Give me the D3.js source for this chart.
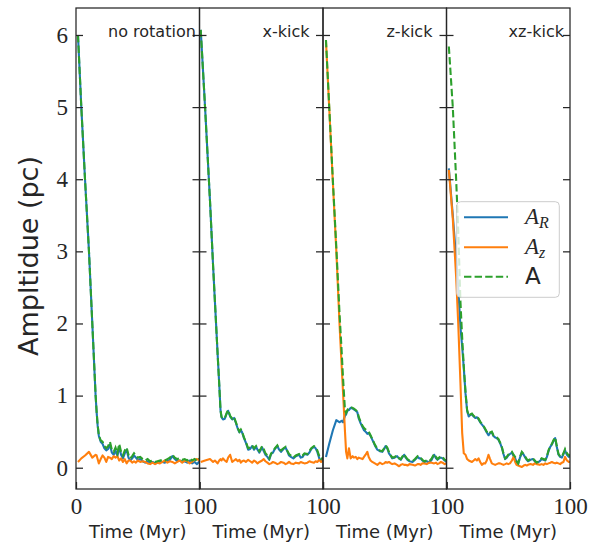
<!DOCTYPE html>
<html><head><meta charset="utf-8">
<script src="https://cdn.jsdelivr.net/npm/d3@7"></script>
<style>body{margin:0;background:#fff} svg{display:block}</style>
</head><body>
<svg id="chart" width="594" height="546"></svg>
<script>
// ---------------- data ----------------
const panelTitles = ["no rotation", "x-kick", "z-kick", "xz-kick"];
const yTicks = [0, 1, 2, 3, 4, 5, 6];
const xTicks = [0, 100];
const xTickLabels = ["0", "100"];
const xLabel = "Time (Myr)";
const yLabel = "Ampltidue (pc)";

// panel 1: no rotation
const t1 = [1.6,4.3,7.3,10.5,13.2,15.9,16.7,17.5,18.5,
  20,21.5,23,24.5,26,27.5,29,30.5,32,33.5,35,36.5,38,39.5,41,42.5,44,45.5,47,48.5,50,
  52,54,56,58,60,62,64,66,68,70,72,74,76,78,80,82,84,86,88,90,92,94,96,98,100];
const AR1 = [6.0,5.0,4.0,3.0,2.0,0.99,0.77,0.59,0.44,
  0.36,0.33,0.27,0.24,0.26,0.32,0.21,0.18,0.24,0.16,0.29,0.18,0.13,0.2,0.25,0.14,0.1,0.13,0.17,0.14,0.11,
  0.12,0.09,0.07,0.09,0.07,0.08,0.06,0.07,0.08,0.08,0.07,0.09,0.11,0.16,0.12,0.09,0.1,0.08,0.09,0.07,0.1,0.06,0.08,0.05,0.09];
const Az1 = [0.08,0.13,0.17,0.22,0.14,0.18,0.17,0.12,0.06,
  0.12,0.17,0.14,0.08,0.15,0.14,0.12,0.16,0.14,0.16,0.1,0.13,0.08,0.12,0.06,0.1,0.1,0.07,0.09,0.07,0.1,
  0.08,0.09,0.08,0.06,0.05,0.07,0.05,0.07,0.06,0.08,0.1,0.07,0.09,0.08,0.06,0.08,0.1,0.07,0.1,0.09,0.06,0.08,0.11,0.12,0.1];
const A1 = [6.0,5.0,4.0,3.0,2.0,1.0,0.78,0.6,0.45,
  0.38,0.36,0.3,0.27,0.3,0.36,0.25,0.22,0.28,0.2,0.33,0.22,0.17,0.24,0.28,0.18,0.13,0.16,0.2,0.17,0.14,
  0.15,0.12,0.1,0.12,0.09,0.1,0.08,0.09,0.1,0.11,0.1,0.12,0.14,0.18,0.14,0.12,0.13,0.11,0.12,0.1,0.13,0.1,0.12,0.09,0.13];

// panel 2: x-kick
const t2 = [1,4.5,8.5,11,12.5,14.6,16,17,17.8,19,
  20.5,22,23.2,24.8,26.5,28,29.5,31,32.3,33.5,
  34.5,36,37.5,39.4,41,42.6,44.2,45.8,47,48.5,
  50.7,52,53.4,55,56.5,58,59.5,61,63,64.5,
  66,68,69.7,71,72.5,74,76,78,80.6,82,
  83.5,85,87.4,89,90.5,92.7,94,95.4,97,98.5,100];
const AR2 = [6.07,5.0,3.7,2.8,2.3,1.6,1.15,0.8,0.7,0.67,
  0.68,0.75,0.79,0.71,0.67,0.69,0.62,0.54,0.49,0.52,
  0.49,0.41,0.35,0.25,0.26,0.3,0.25,0.29,0.25,0.21,
  0.28,0.23,0.18,0.15,0.11,0.19,0.21,0.26,0.3,0.25,
  0.22,0.26,0.28,0.23,0.17,0.15,0.13,0.16,0.18,0.14,
  0.15,0.19,0.18,0.21,0.26,0.29,0.27,0.22,0.13,0.09,0.11];
const Az2 = [0.08,0.1,0.12,0.08,0.1,0.06,0.1,0.12,0.1,0.13,
  0.1,0.08,0.14,0.18,0.08,0.1,0.12,0.09,0.11,0.07,
  0.09,0.1,0.08,0.11,0.09,0.07,0.1,0.08,0.06,0.08,
  0.1,0.12,0.09,0.07,0.05,0.06,0.08,0.07,0.05,0.06,
  0.08,0.07,0.05,0.06,0.08,0.06,0.05,0.07,0.06,0.08,
  0.07,0.06,0.07,0.09,0.08,0.07,0.09,0.08,0.11,0.08,0.1];
const A2 = [6.07,5.0,3.7,2.8,2.3,1.6,1.15,0.8,0.71,0.68,
  0.69,0.76,0.8,0.72,0.68,0.7,0.63,0.55,0.5,0.53,
  0.5,0.42,0.36,0.27,0.28,0.31,0.27,0.3,0.26,0.23,
  0.3,0.26,0.2,0.17,0.13,0.2,0.22,0.27,0.31,0.26,
  0.24,0.27,0.29,0.24,0.19,0.17,0.14,0.17,0.19,0.16,
  0.17,0.2,0.19,0.23,0.27,0.3,0.28,0.24,0.16,0.12,0.14];

// panel 3: z-kick
const t3 = [2.4,5,8,10.8,13.5,15,16.2,17,17.8,18.7,
  19.7,21,22.4,24,25,26.5,27.8,29,30.4,32,
  33.2,34.5,35.9,37,38.5,39.9,42,44,46,48,
  49.5,50.7,52,53.4,55,56,58,60,61.6,63,
  64.5,65.7,67,68.4,70,72.5,74.5,76.6,78,79,
  80.5,82,84,86,88,90,91.5,92.7,94,95.5,
  96.8,98.5,100];
const AR3 = [0.15,0.33,0.52,0.66,0.63,0.65,0.63,0.68,0.72,0.74,
  0.79,0.8,0.83,0.82,0.81,0.79,0.77,0.68,0.62,0.56,
  0.52,0.5,0.47,0.48,0.44,0.39,0.31,0.25,0.23,0.22,
  0.26,0.3,0.27,0.2,0.16,0.13,0.14,0.16,0.13,0.11,
  0.15,0.18,0.14,0.11,0.09,0.08,0.11,0.15,0.13,0.13,
  0.1,0.08,0.09,0.07,0.11,0.18,0.13,0.11,0.13,0.14,
  0.13,0.1,0.08];
const Az3 = [5.92,5.0,3.95,3.0,1.95,1.45,1.05,0.78,0.5,0.22,
  0.13,0.27,0.13,0.16,0.14,0.15,0.12,0.14,0.13,0.12,
  0.15,0.18,0.22,0.15,0.1,0.08,0.06,0.04,0.07,0.05,
  0.06,0.08,0.07,0.08,0.06,0.05,0.06,0.04,0.02,0.04,
  0.05,0.04,0.04,0.03,0.05,0.04,0.03,0.05,0.05,0.04,
  0.06,0.06,0.05,0.07,0.07,0.06,0.07,0.05,0.06,0.08,
  0.07,0.05,0.06];
const A3 = [5.93,5.02,3.98,3.05,2.1,1.65,1.25,1.02,0.8,0.76,
  0.8,0.83,0.84,0.83,0.82,0.8,0.78,0.7,0.64,0.58,
  0.55,0.53,0.52,0.5,0.45,0.4,0.32,0.26,0.24,0.23,
  0.27,0.31,0.28,0.22,0.17,0.14,0.15,0.17,0.13,0.12,
  0.16,0.19,0.15,0.12,0.1,0.09,0.12,0.16,0.14,0.14,
  0.11,0.09,0.1,0.09,0.13,0.19,0.15,0.12,0.14,0.16,
  0.15,0.11,0.1];

// panel 4: xz-kick
const t4 = [1.9,5.1,7.8,9.5,11.3,12.7,14,15.4,16.7,18,
  19.3,20.6,22,23.3,24.6,26,27.3,28.6,30,31.3,
  32.6,34,35.3,36.7,38,39.4,40.7,42,43.4,44.8,
  46.1,47.5,48.8,50,51.4,53,54.3,55.6,56.7,58,
  59.5,61,62.5,63.8,65,66,68,70,71.5,73,
  75.5,77,78.5,80,81.3,82.6,84,85.3,86.6,88,
  89.3,90.7,92,93.4,94.7,96,97.5,99,100];
const AR4 = [4.15,3.5,2.9,2.5,1.95,1.68,1.38,1.03,0.79,0.71,
  0.73,0.74,0.71,0.69,0.7,0.67,0.63,0.6,0.57,0.53,
  0.49,0.45,0.48,0.49,0.44,0.42,0.41,0.39,0.34,0.28,
  0.19,0.12,0.14,0.17,0.19,0.21,0.16,0.13,0.08,0.05,
  0.14,0.21,0.18,0.14,0.11,0.09,0.11,0.12,0.09,0.06,
  0.09,0.12,0.11,0.1,0.15,0.23,0.29,0.32,0.37,0.41,
  0.29,0.18,0.15,0.14,0.19,0.24,0.18,0.15,0.16];
const Az4 = [4.13,3.45,2.65,2.0,1.17,0.48,0.2,0.18,0.12,0.1,
  0.09,0.08,0.1,0.12,0.1,0.13,0.08,0.04,0.06,0.06,
  0.1,0.18,0.12,0.06,0.05,0.04,0.05,0.06,0.06,0.05,
  0.04,0.05,0.06,0.05,0.06,0.1,0.15,0.08,0.04,0.03,
  0.02,0.01,0.03,0.04,0.03,0.04,0.05,0.04,0.06,0.05,
  0.04,0.05,0.04,0.06,0.05,0.06,0.07,0.08,0.07,0.06,
  0.07,0.06,0.05,0.07,0.08,0.15,0.1,0.08,0.08];
const A4 = [5.84,5.0,4.0,3.3,2.3,1.8,1.4,1.05,0.8,0.72,
  0.74,0.75,0.72,0.7,0.71,0.68,0.64,0.61,0.58,0.54,
  0.5,0.47,0.49,0.5,0.45,0.43,0.42,0.4,0.35,0.29,
  0.2,0.13,0.15,0.18,0.2,0.22,0.18,0.15,0.09,0.06,
  0.15,0.22,0.19,0.15,0.12,0.1,0.12,0.13,0.1,0.07,
  0.1,0.13,0.12,0.11,0.16,0.24,0.3,0.33,0.38,0.42,
  0.3,0.19,0.16,0.15,0.2,0.26,0.2,0.17,0.18];

const panels = [
  {title: panelTitles[0], t: t1, AR: AR1, Az: Az1, A: A1},
  {title: panelTitles[1], t: t2, AR: AR2, Az: Az2, A: A2},
  {title: panelTitles[2], t: t3, AR: AR3, Az: Az3, A: A3},
  {title: panelTitles[3], t: t4, AR: AR4, Az: Az4, A: A4}
];

// ---------------- layout ----------------
const W = 594, H = 546;
const pLeft = 76, pRight = 570, pTop = 8, pBottom = 489;
const pw = (pRight - pLeft) / panels.length;
const ink = "#262626";
const colors = {AR: "#1f77b4", Az: "#ff7f0e", A: "#2ca02c"};
const titleAt = [61.5, 70, 70, 72.7];   // title centre (data x) per panel

const svg = d3.select("#chart");
svg.append("rect").attr("width", W).attr("height", H).attr("fill", "#fff");

const y = d3.scaleLinear().domain([-0.295, 6.374]).range([pBottom, pTop]);

panels.forEach((p, i) => {
  const x0 = pLeft + i * pw;
  const x = d3.scaleLinear().domain([0, 100]).range([x0, x0 + pw]);
  const g = svg.append("g");

  const clipId = "clip" + i;
  svg.append("clipPath").attr("id", clipId).append("rect")
    .attr("x", x0).attr("y", pTop).attr("width", pw).attr("height", pBottom - pTop);

  const lines = g.append("g").attr("clip-path", `url(#${clipId})`);
  const line = key => d3.line().x((d, j) => x(p.t[j])).y(d => y(d))(p[key]);
  lines.append("path").attr("d", line("AR")).attr("fill", "none")
    .attr("stroke", colors.AR).attr("stroke-width", 2.1).attr("stroke-linejoin", "round");
  lines.append("path").attr("d", line("Az")).attr("fill", "none")
    .attr("stroke", colors.Az).attr("stroke-width", 2.1).attr("stroke-linejoin", "round");
  lines.append("path").attr("d", line("A")).attr("fill", "none")
    .attr("stroke", colors.A).attr("stroke-width", 2.1).attr("stroke-dasharray", "7.4,3.2");

  // y axes (ticks inward on both sides)
  const yl = g.append("g").attr("transform", `translate(${x0},0)`)
    .call(d3.axisLeft(y).tickValues(yTicks).tickSize(-7).tickSizeOuter(0).tickPadding(8)
      .tickFormat(i === 0 ? d3.format("d") : () => ""));
  const yr = g.append("g").attr("transform", `translate(${x0 + pw},0)`)
    .call(d3.axisRight(y).tickValues(yTicks).tickSize(-7).tickSizeOuter(0).tickFormat(() => ""));
  // x axis
  const xb = g.append("g").attr("transform", `translate(0,${pBottom})`)
    .call(d3.axisBottom(x).tickValues(xTicks).tickSize(-7).tickSizeOuter(0).tickPadding(9)
      .tickFormat((d, k) => (i === 0 || k > 0) ? xTickLabels[k] : ""));
  [yl, yr, xb].forEach(a => {
    a.select(".domain").remove();
    a.selectAll(".tick line").attr("stroke", ink).attr("stroke-width", 1.25);
    a.selectAll(".tick text").attr("fill", ink)
      .style("font-family", "'Liberation Serif', 'DejaVu Serif', serif").style("font-size", "23px");
  });

  // frame
  g.append("rect").attr("x", x0).attr("y", pTop).attr("width", pw).attr("height", pBottom - pTop)
    .attr("fill", "none").attr("stroke", ink).attr("stroke-width", 1.25);

  // title
  g.append("text").attr("x", x(titleAt[i])).attr("y", 37).attr("text-anchor", "middle")
    .attr("fill", ink).style("font-family", "'DejaVu Sans', sans-serif").style("font-size", "16px")
    .text(p.title);

  // x label
  g.append("text").attr("x", x0 + pw / 2).attr("y", 538).attr("text-anchor", "middle")
    .attr("fill", ink).style("font-family", "'DejaVu Sans', sans-serif").style("font-size", "18px")
    .text(xLabel);
});

// y label
svg.append("text").attr("transform", "translate(38,256) rotate(-90)").attr("text-anchor", "middle")
  .attr("fill", ink).style("font-family", "'DejaVu Sans', sans-serif").style("font-size", "27px")
  .text(yLabel);

// legend (in last panel)
const lg = svg.append("g");
lg.append("rect").attr("x", 456.7).attr("y", 201.7).attr("width", 102.6).attr("height", 95.6)
  .attr("rx", 4).attr("fill", "#fff").attr("fill-opacity", 0.8)
  .attr("stroke", "#cccccc").attr("stroke-width", 1);
const legendItems = [
  {key: "AR", base: "A", sub: "R", math: true, ly: 217.3},
  {key: "Az", base: "A", sub: "z", math: true, ly: 247.3},
  {key: "A", base: "A", sub: "", math: false, ly: 276.7}
];
legendItems.forEach(it => {
  lg.append("line").attr("x1", 464).attr("x2", 508).attr("y1", it.ly).attr("y2", it.ly)
    .attr("stroke", colors[it.key]).attr("stroke-width", 2.1)
    .attr("stroke-dasharray", it.key === "A" ? "7.4,3.2" : null);
  const tx = lg.append("text").attr("x", 525).attr("y", it.ly + 6.5).attr("fill", ink);
  if (it.math) {
    tx.style("font-family", "'Liberation Serif', 'DejaVu Serif', serif").style("font-size", "23px")
      .style("font-style", "italic");
    tx.append("tspan").text(it.base);
    tx.append("tspan").attr("dy", 4).style("font-size", "16px").text(it.sub);
  } else {
    tx.attr("y", it.ly + 7.5).style("font-family", "'DejaVu Sans', sans-serif").style("font-size", "23px")
      .text(it.base);
  }
});
</script>
</body></html>
